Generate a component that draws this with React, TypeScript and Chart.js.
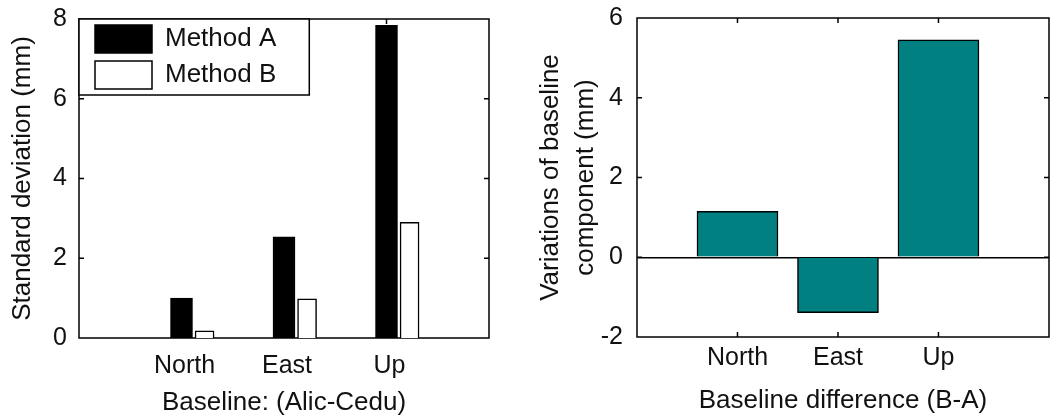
import React, { useEffect, useRef } from 'react';
import { Chart, registerables } from 'chart.js';

Chart.register(...registerables);

// ---- data ----
const leftCategories = ['North', 'East', 'Up'];
const methodA = [1.0, 2.54, 7.84];
const methodB = [0.18, 0.98, 2.9];
const leftYTicks = [0, 2, 4, 6, 8];

const rightCategories = ['North', 'East', 'Up'];
const differenceBA = [1.15, -1.39, 5.45];
const rightYTicks = [-2, 0, 2, 4, 6];

const FONT = "'Liberation Sans', Arial, Helvetica, sans-serif";
const TEXT = '#111';
const B_OFFSET = 0.225; // x shift of the Method B bar within each group

function framePlugin(withLegendFrame: boolean) {
  return {
    id: 'frameTicks',
    afterLayout(chart: any) {
      if (withLegendFrame && chart.legend) {
        chart.legend.left = chart.chartArea.left + 8;
        chart.legend.top = chart.chartArea.top - 2;
      }
    },
    beforeDraw(chart: any) {
      const { ctx, chartArea: a, scales } = chart;
      const xs = scales.x;
      const ys = scales.y;
      const L = 5;
      ctx.save();
      ctx.strokeStyle = '#000';
      ctx.lineWidth = 1.5;
      ctx.beginPath();
      ys.ticks.forEach((t: any) => {
        if (t.value === ys.min || t.value === ys.max) return;
        const p = ys.getPixelForValue(t.value);
        ctx.moveTo(a.left, p);
        ctx.lineTo(a.left + L, p);
        ctx.moveTo(a.right, p);
        ctx.lineTo(a.right - L, p);
      });
      xs.ticks.forEach((t: any) => {
        const p = xs.getPixelForValue(t.value);
        ctx.moveTo(p, a.top);
        ctx.lineTo(p, a.top + L);
        ctx.moveTo(p, a.bottom);
        ctx.lineTo(p, a.bottom - L);
      });
      ctx.stroke();
      ctx.strokeRect(a.left, a.top, a.right - a.left, a.bottom - a.top);
      if (withLegendFrame && chart.legend && chart.legend.legendHitBoxes) {
        const hbs = chart.legend.legendHitBoxes;
        let r = 0;
        let b = 0;
        hbs.forEach((h: any) => {
          r = Math.max(r, h.left + h.width);
          b = Math.max(b, h.top + h.height);
        });
        const fr = r + 33;
        const fb = b + 6;
        ctx.fillStyle = '#fff';
        ctx.fillRect(a.left, a.top, fr - a.left, fb - a.top);
        ctx.strokeRect(a.left, a.top, fr - a.left, fb - a.top);
      }
      ctx.restore();
    },
  };
}

function xTicksFrom(categories: string[]) {
  return (scale: any) => {
    scale.ticks = categories.map((_, i) => ({ value: i + 1 }));
  };
}

function yTicksFrom(values: number[]) {
  return (scale: any) => {
    scale.ticks = values.map((v) => ({ value: v }));
  };
}

function fixSize(dim: 'width' | 'height', size: number) {
  return (s: any) => {
    s[dim] = size;
    s.paddingTop = 0;
    s.paddingBottom = 0;
    s.paddingLeft = 0;
    s.paddingRight = 0;
  };
}

function LeftChart() {
  const ref = useRef<HTMLCanvasElement>(null);
  useEffect(() => {
    const chart = new Chart(ref.current as HTMLCanvasElement, {
      type: 'bar',
      data: {
        datasets: [
          {
            label: 'Method A',
            data: methodA.map((v, i) => ({ x: i + 1, y: v })),
            backgroundColor: '#000',
            borderColor: '#000',
            borderWidth: 1.5,
            barThickness: 22,
            grouped: false,
          },
          {
            label: 'Method B',
            data: methodB.map((v, i) => ({ x: i + 1 + B_OFFSET, y: v })),
            backgroundColor: '#fff',
            borderColor: '#000',
            borderWidth: 1.5,
            barThickness: 19,
            grouped: false,
          },
        ] as any,
      },
      options: {
        animation: false,
        responsive: false,
        events: [],
        layout: { padding: { top: 19, right: 31, left: 0, bottom: 0 } },
        plugins: {
          tooltip: { enabled: false },
          legend: {
            display: true,
            position: 'chartArea',
            align: 'start',
            labels: {
              boxWidth: 57,
              boxHeight: 28,
              padding: 8,
              color: TEXT,
              font: { family: FONT, size: 26 },
            },
          },
        },
        scales: {
          x: {
            type: 'linear',
            min: 0,
            max: 4,
            offset: false,
            afterBuildTicks: xTicksFrom(leftCategories),
            afterFit: fixSize('height', 80),
            grid: { display: false, drawTicks: false, offset: false },
            border: { display: false },
            ticks: {
              autoSkip: false,
              padding: 13,
              labelOffset: 3,
              color: TEXT,
              font: { family: FONT, size: 25 },
              callback: (v: any) => leftCategories[Math.round(v) - 1] ?? '',
            },
            title: {
              display: true,
              text: 'Baseline: (Alic-Cedu)',
              color: TEXT,
              font: { family: FONT, size: 26 },
              padding: { top: 0, bottom: 0 },
            },
          },
          y: {
            min: 0,
            max: 8,
            afterBuildTicks: yTicksFrom(leftYTicks),
            afterFit: fixSize('width', 79),
            grid: { display: false, drawTicks: false },
            border: { display: false },
            ticks: {
              padding: 12,
              color: TEXT,
              font: { family: FONT, size: 25 },
            },
            title: {
              display: true,
              text: 'Standard deviation (mm)',
              color: TEXT,
              font: { family: FONT, size: 26 },
              padding: { top: 7, bottom: 0 },
            },
          },
        },
      } as any,
      plugins: [framePlugin(true)],
    });
    return () => chart.destroy();
  }, []);
  return <canvas ref={ref} width={520} height={418} style={{ display: 'block' }} />;
}

function RightChart() {
  const ref = useRef<HTMLCanvasElement>(null);
  useEffect(() => {
    const chart = new Chart(ref.current as HTMLCanvasElement, {
      type: 'bar',
      data: {
        datasets: [
          {
            label: 'Baseline difference (B-A)',
            data: differenceBA.map((v, i) => ({ x: i + 1, y: v })),
            backgroundColor: '#008080',
            borderColor: '#000',
            borderWidth: 1.5,
            barThickness: 81,
            grouped: false,
          },
        ] as any,
      },
      options: {
        animation: false,
        responsive: false,
        events: [],
        layout: { padding: { top: 18, right: 4, left: 0, bottom: 0 } },
        plugins: {
          tooltip: { enabled: false },
          legend: { display: false },
        },
        scales: {
          x: {
            type: 'linear',
            min: 0,
            max: 4.1,
            offset: false,
            afterBuildTicks: xTicksFrom(rightCategories),
            afterFit: fixSize('height', 81),
            grid: { display: false, drawTicks: false, offset: false },
            border: { display: false },
            ticks: {
              autoSkip: false,
              padding: 6,
              color: TEXT,
              font: { family: FONT, size: 25 },
              callback: (v: any) => rightCategories[Math.round(v) - 1] ?? '',
            },
            title: {
              display: true,
              text: 'Baseline difference (B-A)',
              color: TEXT,
              font: { family: FONT, size: 26 },
              padding: { top: 0, bottom: 2 },
            },
          },
          y: {
            min: -2,
            max: 6,
            afterBuildTicks: yTicksFrom(rightYTicks),
            afterFit: fixSize('width', 117),
            grid: {
              drawTicks: false,
              lineWidth: 1.5,
              color: (c: any) => (c.tick && c.tick.value === 0 ? '#000' : 'rgba(0,0,0,0)'),
            },
            border: { display: false },
            ticks: {
              padding: 14,
              color: TEXT,
              font: { family: FONT, size: 25 },
            },
            title: {
              display: true,
              text: ['Variations of baseline', 'component (mm)'],
              color: TEXT,
              font: { family: FONT, size: 26, lineHeight: 1.35 },
              padding: { top: 13, bottom: 0 },
            },
          },
        },
      } as any,
      plugins: [framePlugin(false)],
    });
    return () => chart.destroy();
  }, []);
  return <canvas ref={ref} width={533} height={418} style={{ display: 'block' }} />;
}

export default function App() {
  return (
    <div
      style={{
        position: 'absolute',
        left: 0,
        top: 0,
        width: 1053,
        height: 418,
        background: '#fff',
        display: 'flex',
        flexDirection: 'row',
      }}
    >
      <LeftChart />
      <RightChart />
    </div>
  );
}
